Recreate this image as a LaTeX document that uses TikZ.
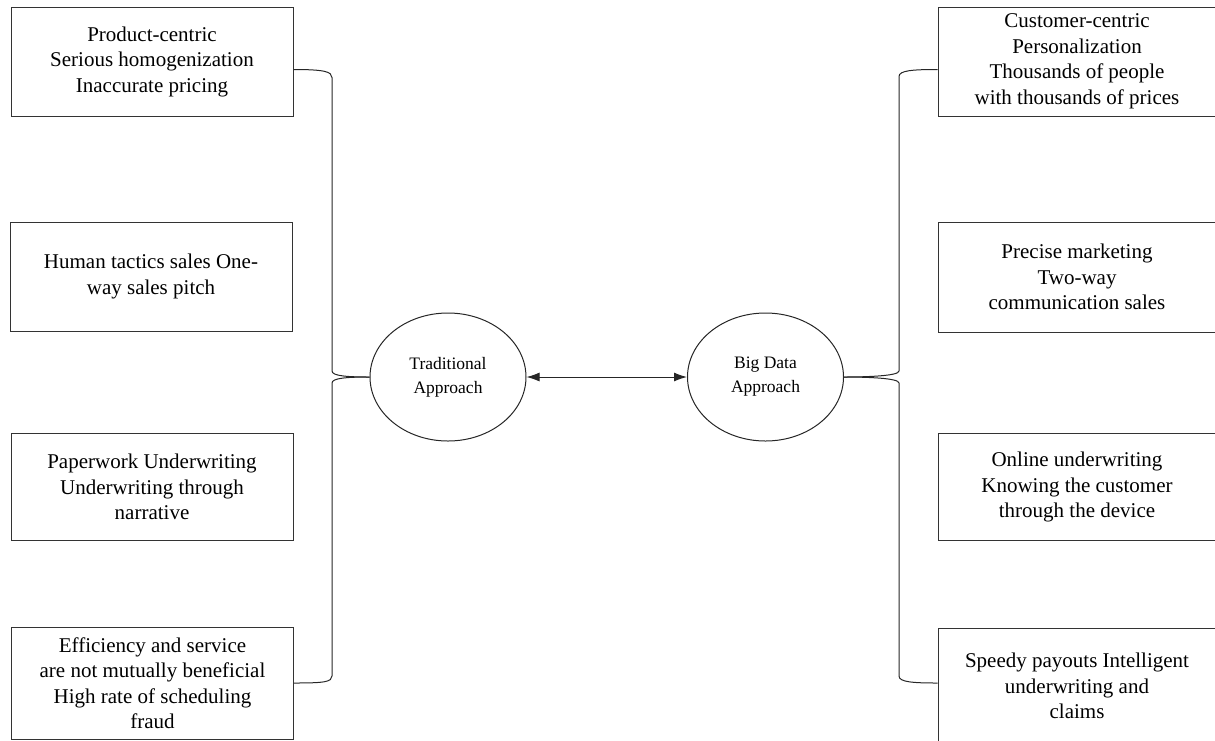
\documentclass[tikz,border=0pt]{standalone}
\usepackage{fontspec}
\setmainfont{Liberation Serif}
\usetikzlibrary{shapes.geometric,arrows.meta,calc}
\begin{document}
\begin{tikzpicture}[x=1pt,y=-1pt,
  >={Latex[length=13pt,width=9pt]},
  box/.style={draw=black!80,line width=1pt,inner sep=0pt,align=center,
    font=\fontsize{21}{25.5}\selectfont},
  lbox/.style={box,minimum width=282pt},
  rbox/.style={box,minimum width=278pt},
  oval/.style={ellipse,draw=black!85,line width=1pt,minimum width=156pt,
    minimum height=128pt,inner sep=0pt,align=center,
    font=\fontsize{17.5}{24}\selectfont},
  link/.style={draw=black!85,line width=1pt}]
\useasboundingbox (0,0) rectangle (1215,740);
% left boxes
\node[lbox,minimum height=109pt] (L1) at (152,61.5) {Product-centric\\Serious homogenization\\Inaccurate pricing};
\node[lbox,minimum height=109pt] (L2) at (151,276.5) {Human tactics sales One-\\way sales pitch};
\node[lbox,minimum height=107pt] (L3) at (152,487) {Paperwork Underwriting\\Underwriting through\\narrative};
\node[lbox,minimum height=112pt] (L4) at (152.5,683) {Efficiency and service\\are not mutually beneficial\\High rate of scheduling\\fraud};
% right boxes
\node[rbox,minimum height=109pt] (R1) at (1077,61.5) {Customer-centric\\Personalization\\Thousands of people\\with thousands of prices};
\node[rbox,minimum height=110pt] (R2) at (1077,277) {Precise marketing\\Two-way\\communication sales};
\node[rbox,minimum height=107pt] (R3) at (1077,487) {Online underwriting\\Knowing the customer\\through the device};
\node[rbox,minimum height=116pt] (R4) at (1077,686) {Speedy payouts Intelligent\\underwriting and\\claims};
% ellipses
\node[oval] (T) at (448,377) {Traditional\\Approach};
\node[oval] (B) at (765.5,377) {Big Data\\Approach};
% arrow
\draw[link,<->] (T) -- (B);
% bracket columns
\coordinate (lx) at (332,0);
\coordinate (rx) at (899,0);
\coordinate (L1c) at ([yshift=-8pt]L1.east);
\coordinate (R1c) at ([yshift=-8pt]R1.west);
\coordinate (R4c) at ([yshift=3pt]R4.west);
% left bracket
\draw[link] (L1c) .. controls +(30,0) and +(0,-6) .. ($(L1c -| lx)+(0,8)$)
  -- ($(T.west -| lx)+(0,-6)$) .. controls +(0,5) and +(-22,0) .. (T.west);
\draw[link] (T.west) .. controls +(-22,0) and +(0,-5) .. ($(T.west -| lx)+(0,6)$)
  -- ($(L4.east -| lx)+(0,-7)$) .. controls +(0,6) and +(30,0) .. (L4.east);
% right bracket
\draw[link] (B.east) .. controls +(22,0) and +(0,5) .. ($(B.east -| rx)+(0,-6)$)
  -- ($(R1c -| rx)+(0,7)$) .. controls +(0,-6) and +(-25,0) .. (R1c);
\draw[link] (B.east) .. controls +(22,0) and +(0,-5) .. ($(B.east -| rx)+(0,6)$)
  -- ($(R4c -| rx)+(0,-7)$) .. controls +(0,6) and +(-25,0) .. (R4c);
\end{tikzpicture}
\end{document}
